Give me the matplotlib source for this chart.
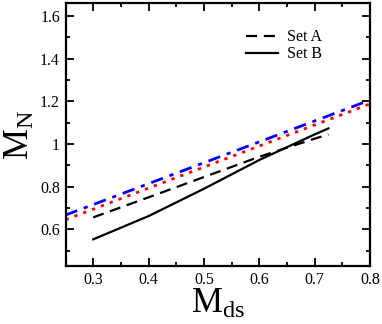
import matplotlib
matplotlib.use("Agg")
import matplotlib.pyplot as plt
import numpy as np
from matplotlib.ticker import MultipleLocator

plt.rcParams['font.family'] = ['Liberation Serif', 'DejaVu Serif']
plt.rcParams['mathtext.fontset'] = 'custom'
plt.rcParams['mathtext.rm'] = 'Liberation Serif'
plt.rcParams['mathtext.it'] = 'Liberation Serif:italic'

# Data
x_blue = [0.25, 0.8]
y_blue = [0.667, 1.206]
x_red = [0.25, 0.8]
y_red = [0.645, 1.188]
x_setA = [0.3, 0.4, 0.5, 0.6, 0.7, 0.725]
y_setA = [0.656, 0.750, 0.845, 0.940, 1.025, 1.045]
x_setB = [0.3, 0.4, 0.5, 0.6, 0.7, 0.725]
y_setB = [0.553, 0.662, 0.790, 0.925, 1.045, 1.073]
legend_labels = ["Set A", "Set B"]

fig = plt.figure(figsize=(3.82, 3.24), dpi=100)
ax = fig.add_axes([0.1715, 0.179, 0.797, 0.811])

ax.plot(x_blue, y_blue, color='blue', lw=2.0, dashes=(4.5, 2.5, 1.5, 2.5))
ax.plot(x_red, y_red, color='red', lw=2.0, dashes=(1.2, 2.2))
ax.plot(x_setA, y_setA, color='black', lw=1.6, dashes=(5, 3), label=legend_labels[0])
ax.plot(x_setB, y_setB, color='black', lw=1.6, label=legend_labels[1])

ax.set_xlim(0.25, 0.8)
ax.set_ylim(0.428, 1.66)
ax.xaxis.set_major_locator(MultipleLocator(0.1))
ax.xaxis.set_minor_locator(MultipleLocator(0.05))
ax.yaxis.set_major_locator(MultipleLocator(0.2))
ax.yaxis.set_minor_locator(MultipleLocator(0.1))
ax.set_xticks([0.3, 0.4, 0.5, 0.6, 0.7, 0.8])
ax.set_xticklabels(["0.3", "0.4", "0.5", "0.6", "0.7", "0.8"])
ax.set_yticks([0.6, 0.8, 1.0, 1.2, 1.4, 1.6])
ax.set_yticklabels(["0.6", "0.8", "1", "1.2", "1.4", "1.6"])
ax.tick_params(which='both', direction='in', top=True, right=True, labelsize=11.5, width=1.3)
ax.tick_params(which='major', length=6, pad=4)
ax.tick_params(which='minor', length=3)
for s in ax.spines.values():
    s.set_linewidth(1.6)

ax.set_xlabel(r"$\mathrm{M_{ds}}$", fontsize=25, labelpad=0)
ax.set_ylabel(r"$\mathrm{M_{N}}$", fontsize=25, labelpad=2)

ax.legend(loc='upper right', bbox_to_anchor=(0.89, 0.955), frameon=False, fontsize=11.5,
          handlelength=2.0, handletextpad=0.6, labelspacing=0.05)

fig.savefig("out.png", dpi=100)
